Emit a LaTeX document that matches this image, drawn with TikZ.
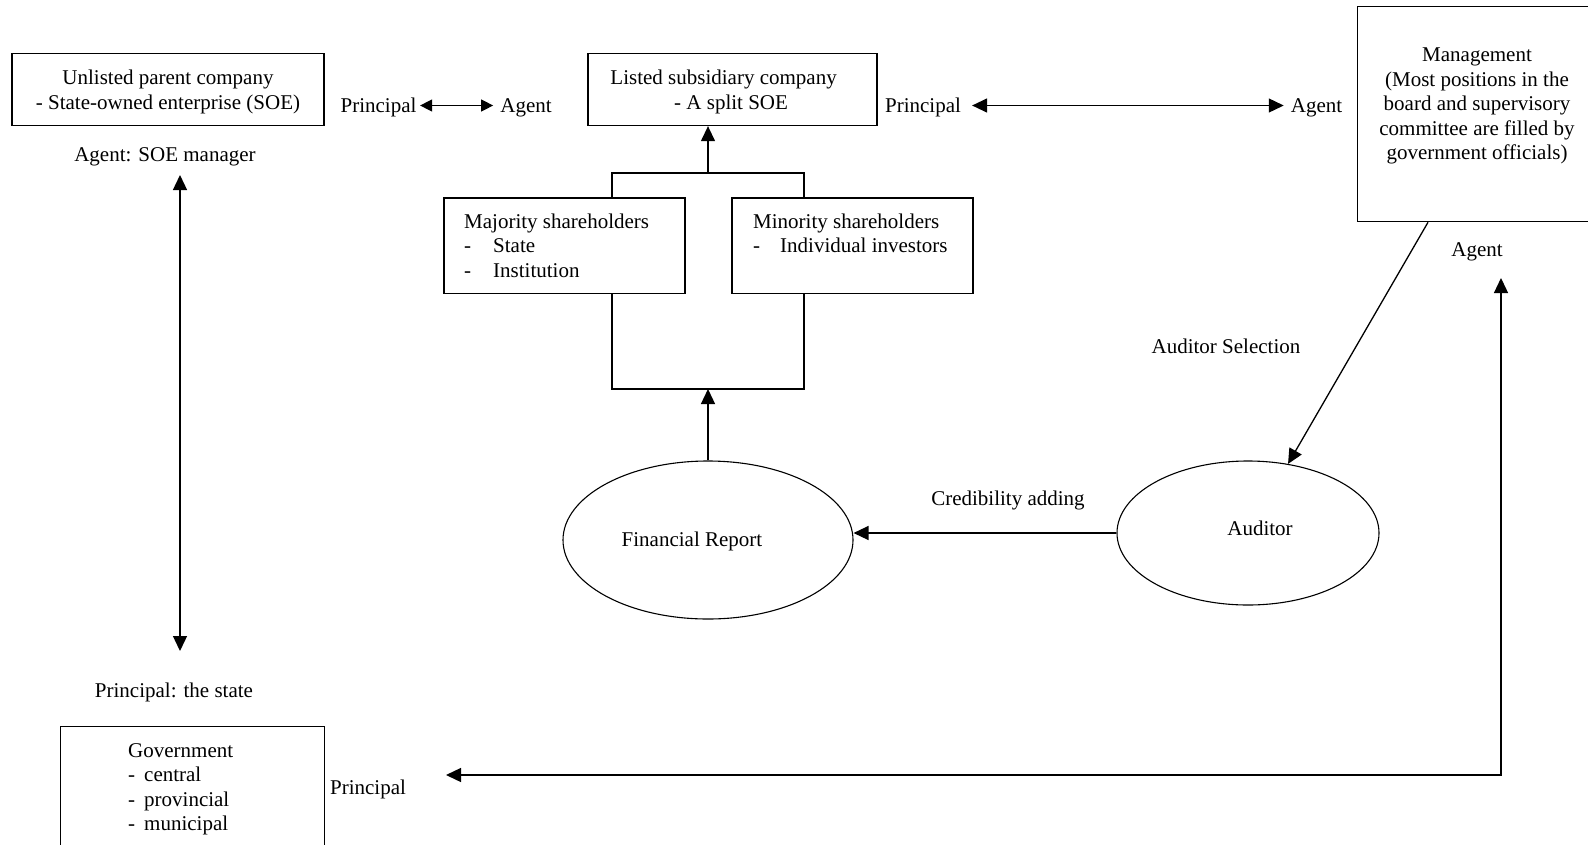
\documentclass[tikz,border=0pt]{standalone}
\usepackage{fontspec}
\setmainfont{Liberation Serif}
\usetikzlibrary{arrows.meta,shapes.geometric}
\begin{document}
\begin{tikzpicture}[x=1pt,y=-1pt,
  every node/.style={font=\fontsize{21}{24.5}\selectfont},
  box/.style={draw,line width=1.3pt,rectangle,inner sep=0pt},
  oval/.style={draw,line width=1.1pt,ellipse,inner sep=0pt},
  lbl/.style={inner sep=0pt},
  conn/.style={line width=1.3pt},
  tipbig/.tip={Triangle[length=15pt,width=14pt]},
  tipsmall/.tip={Triangle[length=12pt,width=12pt]},
  arr/.style={conn,-tipbig},
  darr/.style={conn,tipbig-tipbig},
  sdarr/.style={conn,tipsmall-tipsmall}]
\useasboundingbox (0,0) rectangle (1588,844);

% boxes
\node[box,minimum width=312pt,minimum height=72pt] (unl) at (168,89.7) {};
\node[lbl,align=center] (unltxt) at (168,92)
  {Unlisted parent company\\- State-owned enterprise (SOE)};
\node[box,minimum width=289pt,minimum height=72pt] (lst) at (732.5,89.5) {};
\node[lbl,align=center] (lsttxt) at (723.6,92) {Listed subsidiary company\\\hspace{15pt}- A split SOE};
\node[box,minimum width=241pt,minimum height=95.5pt] (maj) at (564.5,245.7) {};
\node[lbl,align=left,anchor=west] (majtxt) at (464,245.5)
  {Majority shareholders\\\makebox[29pt][l]{-}State\\\makebox[29pt][l]{-}Institution};
\node[box,minimum width=241pt,minimum height=95.5pt] (min) at (852.5,245.7) {};
\node[lbl,align=left,anchor=west] (mintxt) at (753,233.5)
  {Minority shareholders\\\makebox[27pt][l]{-}Individual investors};
\node[box,minimum width=245pt,minimum height=215pt,anchor=north west] (mgmt) at (1357,6) {};
\node[lbl,align=center] (mgmttxt) at (1477,106)
  {Management\\(Most positions in the\\board and supervisory\\committee are filled by\\government officials)};
\node[box,minimum width=264pt,minimum height=150pt,anchor=north west] (gov) at (60,726) {};
\node[lbl,align=left,anchor=west] (govtxt) at (128,789.5)
  {Government\\-\hspace{9pt}central\\-\hspace{9pt}provincial\\-\hspace{9pt}municipal};

% ellipses
\node[oval,minimum width=290pt,minimum height=158pt] (fr) at (708,540) {};
\node[lbl] (frtxt) at (692,541) {Financial Report};
\node[oval,minimum width=262pt,minimum height=144pt] (aud) at (1248,533) {};
\node[lbl] (audtxt) at (1260,528) {Auditor};

% labels
\node[lbl] (agsoe) at (165,157) {Agent: SOE manager};
\node[lbl] (prstate) at (174,692) {Principal: the state};
\node[lbl] (p1) at (378.5,107.5) {Principal};
\node[lbl] (a1) at (526,107.5) {Agent};
\node[lbl] (p2) at (923,107.5) {Principal};
\node[lbl] (a2) at (1316.6,107.5) {Agent};
\node[lbl] (agmg) at (1477,252) {Agent};
\node[lbl] (prgov) at (368,789) {Principal};
\node[lbl] (audsel) at (1226,346) {Auditor Selection};
\node[lbl] (cred) at (1008,500) {Credibility adding};

% coordinates
\coordinate (va) at (180,175);
\coordinate (vb) at (180,651);
\coordinate (gl) at (446,775);
\coordinate (gc) at (1501,775);
\coordinate (gt) at (1501,278);
\coordinate (xl) at (612,0);
\coordinate (xr) at (804,0);
\coordinate (jb) at (708,389);
\coordinate (jt) at (708,173);

% connectors
\draw[sdarr] ([xshift=3.5pt,yshift=2pt]p1.east) -- ([xshift=-7pt,yshift=2pt]a1.west);
\draw[darr] ([xshift=11pt,yshift=2pt]p2.east) -- ([xshift=-7pt,yshift=2pt]a2.west);
\draw[darr] (va) -- (vb);
\draw[darr] (gl) -- (gc) -- (gt);
\draw[arr] ([xshift=71pt]mgmt.south west) -- (aud);
\draw[arr] (aud.west) -- (aud.west -| fr.east);
\draw[arr] (fr.north) -- (jb);
\draw[conn] (maj.south -| xl) |- (jb) -| (min.south -| xr);
\draw[conn] (maj.north -| xl) |- (jt) -| (min.north -| xr);
\draw[arr] (jt) -- (jt |- lst.south);
\end{tikzpicture}
\end{document}
